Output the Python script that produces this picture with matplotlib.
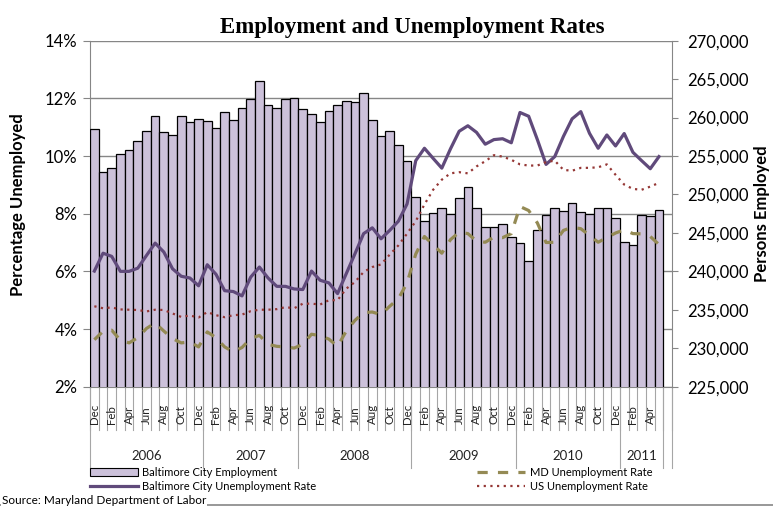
import matplotlib.pyplot as plt
import matplotlib.transforms as mtransforms
from matplotlib.patches import Patch
from matplotlib.lines import Line2D
import numpy as np

plt.rcParams['font.family'] = ['Lato', 'DejaVu Sans']

# categories: Dec 2005 .. May 2011, plus one empty slot at the end
months = ['Dec', 'Jan', 'Feb', 'Mar', 'Apr', 'May', 'Jun', 'Jul', 'Aug', 'Sep', 'Oct', 'Nov'] * 5 \
    + ['Dec', 'Jan', 'Feb', 'Mar', 'Apr', 'May', '']
years = ['2006', '2007', '2008', '2009', '2010', '2011', '']
year_span = [13, 11, 13, 12, 12, 5, 1]

# Baltimore City employment (persons)
employment = [258500, 252900, 253400, 255300, 255800, 257000, 258300, 260200, 258100, 257700,
              260200, 259400, 259800, 259500, 258700, 260700, 259700, 261200, 262400, 264700,
              261600, 261300, 262400, 262600, 261100, 260500, 259400, 260900, 261600, 262200,
              262000, 263200, 259700, 257600, 258300, 256400, 254300, 249700, 246500, 247600,
              248300, 247500, 249600, 251000, 248200, 245800, 245800, 246200, 244500, 243700,
              241400, 245400, 247300, 248200, 247900, 248900, 247700, 247500, 248300, 248200,
              246900, 243800, 243400, 247300, 247200, 248000, np.nan]

# unemployment rates (%)
city_rate = [6.01, 6.63, 6.52, 6.00, 6.00, 6.11, 6.55, 6.98, 6.67, 6.09,
             5.83, 5.77, 5.50, 6.23, 5.90, 5.33, 5.30, 5.15, 5.80, 6.15,
             5.77, 5.48, 5.48, 5.39, 5.37, 6.01, 5.69, 5.60, 5.23, 5.92,
             6.61, 7.31, 7.51, 7.13, 7.42, 7.74, 8.34, 9.84, 10.27, 9.92,
             9.58, 10.25, 10.86, 11.05, 10.82, 10.41, 10.57, 10.60, 10.46, 11.51,
             11.38, 10.57, 9.71, 9.98, 10.68, 11.29, 11.54, 10.79, 10.27, 10.73,
             10.35, 10.78, 10.13, 9.84, 9.56, 9.98, np.nan]
md_rate = [3.63, 3.92, 3.96, 3.61, 3.52, 3.70, 4.02, 4.21, 3.93, 3.67,
           3.52, 3.55, 3.38, 3.90, 3.70, 3.38, 3.21, 3.36, 3.67, 3.78,
           3.47, 3.40, 3.38, 3.34, 3.47, 3.82, 3.77, 3.65, 3.40, 3.93,
           4.30, 4.57, 4.59, 4.50, 4.79, 5.05, 5.60, 6.60, 7.21, 6.93,
           6.63, 7.10, 7.36, 7.31, 7.05, 7.01, 7.19, 7.17, 7.31, 8.25,
           8.11, 7.68, 7.00, 7.01, 7.42, 7.53, 7.48, 7.25, 7.01, 7.17,
           7.33, 7.44, 7.31, 7.30, 7.21, 6.93, np.nan]
us_rate = [4.79, 4.72, 4.75, 4.68, 4.67, 4.66, 4.61, 4.67, 4.66, 4.54,
           4.42, 4.47, 4.40, 4.59, 4.48, 4.41, 4.48, 4.50, 4.62, 4.67,
           4.67, 4.69, 4.76, 4.72, 4.88, 4.88, 4.85, 5.00, 5.00, 5.40,
           5.63, 5.98, 6.15, 6.24, 6.58, 6.90, 7.31, 7.74, 8.32, 8.83,
           9.18, 9.40, 9.44, 9.40, 9.64, 9.82, 10.03, 9.98, 9.87, 9.71,
           9.67, 9.67, 9.79, 9.84, 9.52, 9.49, 9.59, 9.59, 9.61, 9.71,
           9.35, 9.01, 8.86, 8.83, 8.94, 9.07, np.nan]

grey = '#868686'
W, H = 773, 507
fig = plt.figure(figsize=(W / 100, H / 100), dpi=100)
pos = [90 / W, 1 - 386.7 / H, 582 / W, 346 / H]

# grid / left axis, bars (right axis), lines on top
axg = fig.add_axes(pos, zorder=0)
axb = fig.add_axes(pos, zorder=1, sharex=axg)
axl = fig.add_axes(pos, zorder=2, sharex=axg, sharey=axg)
axb.patch.set_visible(False)
axl.patch.set_visible(False)

x = np.arange(len(months))
axg.set_xlim(-0.5, len(months) - 0.5)
axg.set_ylim(2, 14)
axg.set_yticks(np.arange(2, 15, 2))
axg.set_yticklabels([f'{v}%' for v in range(2, 15, 2)])
axg.grid(axis='y', color=grey, lw=1)
axg.tick_params(axis='y', direction='out', length=5, color=grey, labelsize=12, pad=4)
for s in ['top', 'right']:
    axg.spines[s].set_visible(False)
for s in ['left', 'bottom']:
    axg.spines[s].set_color(grey)

axb.bar(x, employment, width=1.0, color='#CCC1DA', edgecolor='black', lw=0.9)
axb.set_ylim(225000, 270000)
axb.yaxis.tick_right()
axb.set_yticks(np.arange(225000, 270001, 5000))
axb.set_yticklabels([f'{v:,}' for v in range(225000, 270001, 5000)])
axb.tick_params(axis='y', direction='out', length=4, color=grey, labelsize=12, pad=7)
for s in ['top', 'left', 'bottom']:
    axb.spines[s].set_visible(False)
axb.spines['right'].set_color(grey)

axl.plot(x, city_rate, color='#604A7B', lw=2.3, solid_joinstyle='round')
axl.plot(x, md_rate, color='#948A54', lw=2.3, linestyle=(0, (3.2, 3.2)))
axl.plot(x, us_rate, color='#953735', lw=1.6, linestyle=(0, (1, 2)))
for s in axl.spines.values():
    s.set_visible(False)
axl.tick_params(left=False, labelleft=False)

for a in (axg, axb, axl):
    a.tick_params(axis='x', bottom=False, labelbottom=False)

# two-level category axis
trans = mtransforms.blended_transform_factory(axg.transData, axg.transAxes)
for b in np.arange(-0.5, len(months)):
    axg.plot([b, b], [0, -0.125], transform=trans, color='#A6A6A6', lw=0.8, clip_on=False)
for i in range(0, len(months), 2):
    axg.text(i, -0.108, months[i], transform=trans, rotation=90, ha='center', va='bottom',
             fontsize=8.3, color='#222222')
edges = np.concatenate([[0], np.cumsum(year_span)]) - 0.5
for b in edges:
    axg.plot([b, b], [0, -0.235], transform=trans, color='#A6A6A6', lw=0.8, clip_on=False)
for lo, hi, yr in zip(edges[:-1], edges[1:], years):
    axg.text((lo + hi) / 2, -0.2, yr, transform=trans, ha='center', va='center',
             fontsize=9.5, color='#222222')

fig.text(412 / W, 1 - 27 / H, 'Employment and Unemployment Rates', ha='center', va='center',
         fontsize=16.5, family='Liberation Serif', weight='bold')
fig.text(18 / W, 1 - 205 / H, 'Percentage Unemployed', rotation=90, ha='center', va='center',
         fontsize=12, weight='bold')
fig.text(762 / W, 1 - 214 / H, 'Persons Employed', rotation=90, ha='center', va='center',
         fontsize=12, weight='bold')

handles = [Patch(facecolor='#CCC1DA', edgecolor='black', lw=0.8),
           Line2D([], [], color='#604A7B', lw=2.3),
           Line2D([], [], color='#948A54', lw=2.3, linestyle=(0, (3.2, 3.2))),
           Line2D([], [], color='#953735', lw=1.6, linestyle=(0, (1, 2)))]
names = ['Baltimore City Employment', 'Baltimore City Unemployment Rate',
         'MD Unemployment Rate', 'US Unemployment Rate']
fig.legend(handles, names, ncol=2, loc='upper left', bbox_to_anchor=(90 / W, 1 - 467 / H),
           frameon=False, fontsize=8, handlelength=4.3, handletextpad=0.4,
           columnspacing=14.5, labelspacing=0.3, borderpad=0, borderaxespad=0)

fig.add_artist(Line2D([0, 1], [1 - 505 / H] * 2, color=grey, lw=1.2))
fig.text(2 / W, 1 - 500 / H, 'Source: Maryland Department of Labor', ha='left', va='center',
         fontsize=8.5, bbox=dict(facecolor='white', edgecolor='none', pad=0.5))

fig.savefig('out.png', dpi=100)
